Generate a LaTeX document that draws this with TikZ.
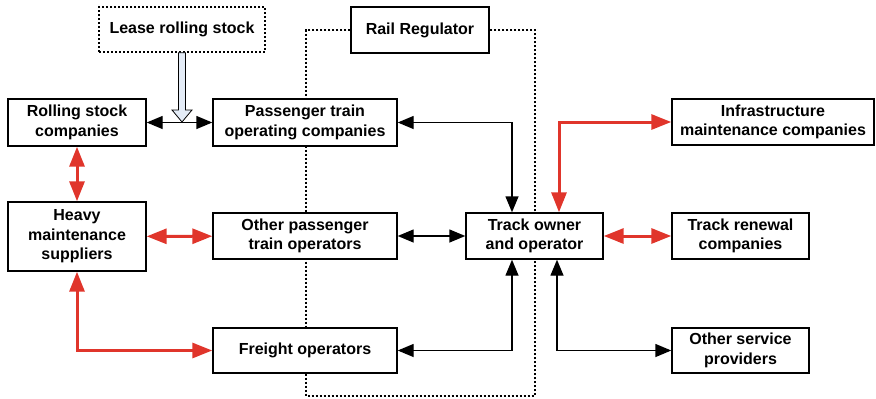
\documentclass[tikz,border=0pt]{standalone}
\usepackage{fontspec}
\setmainfont{Liberation Sans}
\usetikzlibrary{positioning, arrows.meta}
\definecolor{railred}{HTML}{E0352B}
\definecolor{leaseblue}{HTML}{E4ECF7}
\tikzstyle{rbox} = [rectangle, draw, line width=1.4pt, fill=white, align=center,
inner sep=0pt, minimum height=46pt, font=\bfseries\fontsize{16}{19.5}\selectfont]
\tikzstyle{blink} = [line width=1.4pt, {Triangle[length=16pt,width=13pt]}-{Triangle[length=16pt,width=13pt]}]
\tikzstyle{rlink} = [line width=3pt, draw=railred, {Triangle[length=20pt,width=15pt]}-{Triangle[length=20pt,width=15pt]}]
\tikzstyle{frame} = [line width=1.3pt, dash pattern=on 2pt off 2pt]

\begin{document}
\begin{tikzpicture}[x=1pt, y=-1pt]
        \useasboundingbox (0,0) rectangle (876,399);
        \node (reg) [rbox, minimum width=138pt] at (420,30) {Rail Regulator};
        \coordinate (fbl) at (306,396);
        \coordinate (fbr) at (535,396);
        \draw [frame] (reg.west) -| (fbl) -- (fbr) |- (reg.east);

        \node (lease) [rbox, frame, minimum width=166pt, minimum height=45pt] at (182,29.5) {Lease rolling stock};
        \node (rsc) [rbox, minimum width=138pt, minimum height=47pt] at (77,122.5) {Rolling stock\\companies};
        \node (ptoc) [rbox, minimum width=184pt, minimum height=47pt] at (305,122.5) {Passenger train\\operating companies};
        \node (infra) [rbox, minimum width=202pt] at (773,122) {Infrastructure\\maintenance companies};
        \node (heavy) [rbox, minimum width=138pt, minimum height=69pt] at (77,236.5) {Heavy\\maintenance\\suppliers};
        \node (optr) [rbox, minimum width=184pt] at (305,236) {Other passenger\\train operators};
        \node (track) [rbox, minimum width=137pt] at (534.5,236) {Track owner\\and operator};
        \node (renew) [rbox, minimum width=137pt] at (740.5,236) {Track renewal\\companies};
        \node (freight) [rbox, minimum width=184pt, minimum height=45pt] at (305,350.5) {Freight operators};
        \node (other) [rbox, minimum width=137pt, minimum height=45pt] at (740.5,350.5) {Other service\\providers};

        \draw [blink] (rsc) -- (ptoc);
        \coordinate (lmid) at (182,122);
        \draw [line width=0.8pt, fill=leaseblue] ([xshift=-3.5pt]lease.south) -- ([shift={(-3.5pt,12pt)}]lmid)
            -- ([shift={(-10pt,12pt)}]lmid) -- (lmid) -- ([shift={(10pt,12pt)}]lmid)
            -- ([shift={(3.5pt,12pt)}]lmid) -- ([xshift=3.5pt]lease.south) -- cycle;
        \draw [blink] (ptoc) -| ([xshift=-22.5pt]track.north);
        \draw [blink] (optr) -- (track);
        \draw [blink] (freight) -| ([xshift=-22.5pt]track.south);
        \draw [blink] ([xshift=22.5pt]track.south) |- (other);

        \draw [rlink] ([xshift=24.5pt]track.north) |- (infra);
        \draw [rlink] (track) -- (renew);
        \draw [rlink] (rsc) -- (heavy);
        \draw [rlink] (heavy) -- (optr);
        \draw [rlink] (heavy) |- (freight);
\end{tikzpicture}
\end{document}
